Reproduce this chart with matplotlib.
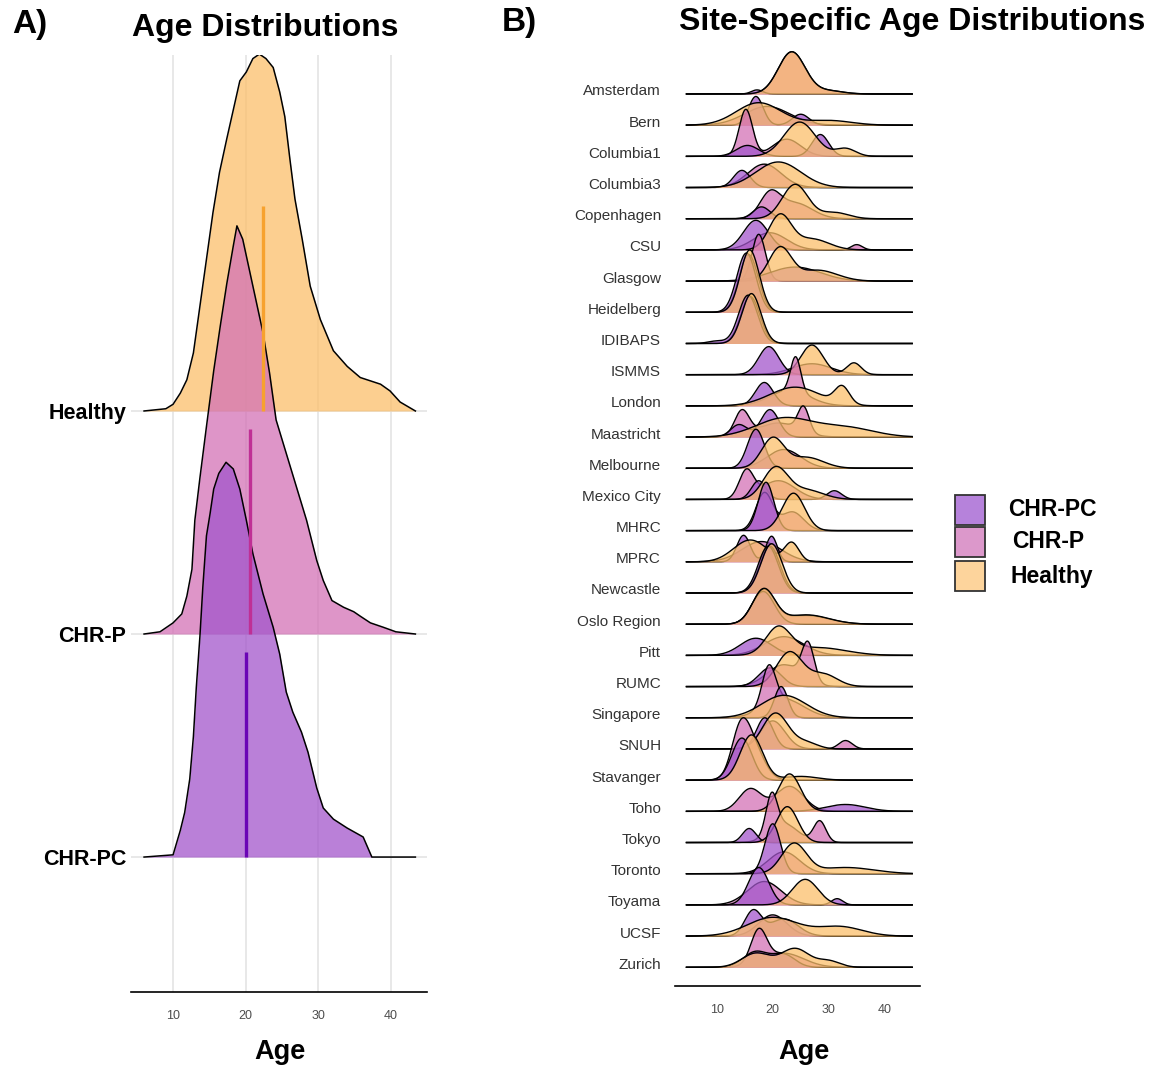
import numpy as np
import matplotlib
matplotlib.use("Agg")
import matplotlib.pyplot as plt
from matplotlib.patches import Rectangle

plt.rcParams['font.family'] = ['Liberation Sans', 'DejaVu Sans']

groups = ["CHR-PC", "CHR-P", "Healthy"]
fill_col = {"CHR-PC": "#A356CB", "CHR-P": "#D372B6", "Healthy": "#FBBF6B"}
key_col = {"CHR-PC": "#B682DB", "CHR-P": "#DC98CB", "Healthy": "#FDD49C"}
mean_col = {"CHR-PC": "#6B05B5", "CHR-P": "#BF2F95", "Healthy": "#F7A22E"}
ALPHA = 0.75

# ---- panel A: pooled densities (height in ridge units)
hc_age = [6.0, 9.0, 10.0, 11.0, 11.9, 12.8, 13.7, 14.6, 15.5, 16.4, 17.4, 18.3,
          19.2, 20.1, 21.0, 21.9, 22.8, 23.8, 24.7, 25.4, 26.1, 26.8, 27.8,
          28.9, 30.3, 32.1, 34.0, 35.8, 38.6, 39.9, 41.3, 43.4]
hc_dens = [0, 0.01, 0.03, 0.08, 0.14, 0.26, 0.47, 0.68, 0.89, 1.07, 1.22, 1.35,
           1.48, 1.52, 1.58, 1.60, 1.58, 1.54, 1.43, 1.32, 1.13, 0.95, 0.77,
           0.56, 0.41, 0.27, 0.20, 0.15, 0.12, 0.09, 0.04, 0]
p_age = [6.0, 8.2, 10.0, 11.2, 11.9, 12.6, 13.0, 13.7, 14.6, 15.6, 16.5, 17.4,
         18.3, 18.8, 19.6, 21.0, 22.4, 23.3, 24.2, 25.6, 27.0, 28.4, 29.8,
         30.7, 31.9, 33.5, 34.9, 35.8, 37.2, 39.0, 40.7, 43.4]
p_dens = [0, 0.01, 0.05, 0.09, 0.17, 0.29, 0.51, 0.70, 0.93, 1.18, 1.38, 1.57,
          1.74, 1.83, 1.77, 1.56, 1.35, 1.17, 0.96, 0.81, 0.66, 0.51, 0.33,
          0.24, 0.15, 0.12, 0.10, 0.08, 0.05, 0.03, 0.01, 0]
pc_age = [6.0, 10.0, 11.0, 11.6, 12.3, 12.8, 13.2, 13.7, 14.1, 14.6, 15.1, 15.6,
          16.3, 17.3, 18.3, 19.2, 20.1, 21.0, 22.4, 23.8, 24.7, 25.6, 26.5,
          27.7, 28.6, 29.8, 30.7, 32.1, 34.0, 35.1, 36.2, 37.4, 43.4]
pc_dens = [0, 0.01, 0.12, 0.20, 0.35, 0.54, 0.76, 0.99, 1.21, 1.44, 1.54, 1.65,
           1.72, 1.77, 1.74, 1.65, 1.51, 1.36, 1.18, 1.03, 0.91, 0.74, 0.65,
           0.56, 0.47, 0.31, 0.22, 0.17, 0.13, 0.11, 0.09, 0, 0]
group_mean = {"CHR-PC": 20.0, "CHR-P": 20.6, "Healthy": 22.4}

# ---- panel B: site densities, bumps (age, height, width)
sites = ["Amsterdam", "Bern", "Columbia1", "Columbia3", "Copenhagen", "CSU",
         "Glasgow", "Heidelberg", "IDIBAPS", "ISMMS", "London", "Maastricht",
         "Melbourne", "Mexico City", "MHRC", "MPRC", "Newcastle", "Oslo Region",
         "Pitt", "RUMC", "Singapore", "SNUH", "Stavanger", "Toho", "Tokyo",
         "Toronto", "Toyama", "UCSF", "Zurich"]
pc_bumps = [
    [(17.2, 0.13, 1.0)],
    [(17, 0.92, 1.3), (25, 0.35, 1.5)],
    [(15.5, 0.35, 2.0), (28.5, 0.7, 1.5)],
    [(14.5, 0.55, 1.5)],
    [(18, 0.38, 1.5)],
    [(17, 0.95, 2.2)],
    [(24, 0.45, 4.5)],
    [(15.3, 1.9, 1.7)],
    [(15.6, 1.55, 1.7), (10, 0.08, 1.5)],
    [(19.3, 0.9, 1.8)],
    [(18.5, 0.75, 1.6)],
    [(19.5, 0.88, 1.6), (14, 0.4, 1.5)],
    [(17, 1.25, 1.5)],
    [(17.5, 0.6, 1.3), (31, 0.28, 1.3)],
    [(18.8, 1.55, 1.4)],
    [(14.8, 0.85, 1.2), (19.8, 0.82, 1.0)],
    [(19.2, 1.5, 1.8)],
    [(18.3, 1.05, 2.0)],
    [(17, 0.55, 2.8)],
    [(19.5, 0.6, 2.0)],
    [(21.5, 1.0, 1.2)],
    [(18.6, 1.0, 1.5)],
    [(14.5, 1.35, 1.8)],
    [(33, 0.22, 3.5)],
    [(15.8, 0.45, 1.2)],
    [(20, 1.6, 1.4)],
    [(17.5, 1.2, 1.8), (31.5, 0.2, 1.0)],
    [(16.5, 0.8, 1.5), (22, 0.55, 2.5)],
    [(17, 0.5, 2.2), (22, 0.4, 2.0)],
]
p_bumps = [
    [(23.4, 1.35, 2.4), (30, 0.1, 2.5)],
    [(19, 0.6, 4.0)],
    [(15.2, 1.5, 1.2), (22.5, 0.55, 2.5)],
    [(18.5, 0.75, 3.0)],
    [(19.5, 0.75, 1.8), (24, 0.5, 3.0)],
    [(19.5, 0.55, 3.0), (35, 0.17, 1.0)],
    [(17.5, 1.5, 1.2)],
    [(15.7, 1.85, 1.7)],
    [(16, 1.5, 1.7)],
    [(27, 0.35, 3.5)],
    [(24.1, 1.1, 0.9), (23, 0.5, 3.5)],
    [(14.5, 0.8, 1.3), (25.5, 0.8, 1.0), (21, 0.45, 3.5)],
    [(22, 0.6, 3.0)],
    [(15.3, 0.88, 1.3), (21, 0.6, 3.0)],
    [(18.5, 1.2, 1.5), (23.5, 0.6, 2.0)],
    [(18, 0.65, 3.5)],
    [(19.5, 1.5, 1.8)],
    [(18.4, 1.08, 2.0), (26, 0.28, 4.0)],
    [(22, 0.6, 3.5)],
    [(26.3, 1.2, 1.1), (22, 0.7, 3.0)],
    [(19.3, 1.25, 1.2), (22, 0.6, 3.5)],
    [(33, 0.27, 1.2), (20, 0.9, 2.2)],
    [(14.2, 1.4, 1.6), (16.5, 1.0, 2.0)],
    [(16, 0.72, 2.0), (23, 0.8, 2.5)],
    [(19.8, 1.2, 1.0), (28.4, 0.68, 1.1), (22, 0.6, 2.5)],
    [(22, 0.7, 2.8)],
    [(18.5, 0.75, 3.0)],
    [(20, 0.68, 2.5)],
    [(17.5, 1.05, 1.4), (22, 0.45, 3.5)],
]
hc_bumps = [
    [(23.4, 1.35, 2.4), (30, 0.1, 2.5)],
    [(17.5, 0.72, 4.0), (30, 0.15, 4.0)],
    [(24.8, 1.1, 2.8), (33, 0.25, 1.8)],
    [(21, 0.82, 4.0)],
    [(24, 1.1, 2.3), (31, 0.2, 2.5)],
    [(21.3, 1.1, 2.0), (27, 0.35, 3.0)],
    [(21.3, 1.05, 2.0), (28, 0.35, 3.5)],
    [(15.9, 2.0, 1.7)],
    [(16.2, 1.6, 1.7)],
    [(27, 0.95, 2.0), (34.5, 0.38, 1.3)],
    [(24, 0.6, 4.5), (32.4, 0.55, 1.3)],
    [(22, 0.6, 5.0), (33, 0.3, 5.0)],
    [(20, 0.95, 2.0), (26, 0.35, 3.0)],
    [(20.5, 1.0, 2.2), (26, 0.3, 3.0)],
    [(23.7, 1.2, 2.0)],
    [(16, 0.7, 3.0), (23.4, 0.6, 1.3)],
    [(19.8, 1.58, 1.9)],
    [(18.4, 1.1, 2.0), (26, 0.3, 4.0)],
    [(21, 0.85, 2.2), (28, 0.25, 5.0)],
    [(23, 1.1, 2.3), (29, 0.4, 2.5)],
    [(22, 0.72, 4.0)],
    [(20.5, 1.15, 2.3), (26, 0.2, 2.0)],
    [(16.2, 1.45, 2.0), (25, 0.12, 3.0)],
    [(23, 1.2, 2.0)],
    [(22.6, 1.15, 1.9)],
    [(23.8, 0.95, 2.2), (33, 0.2, 5.0)],
    [(25.8, 0.82, 2.3)],
    [(20, 0.6, 4.5), (32, 0.3, 4.0)],
    [(24, 0.6, 2.5), (17, 0.45, 2.5), (30, 0.2, 2.0)],
]


def ridge(x, bumps):
    y = np.zeros_like(x)
    for c, h, s in bumps:
        y += h * np.exp(-0.5 * ((x - c) / s) ** 2)
    return y


W, H = 1158, 1069
fig = plt.figure(figsize=(W / 100, H / 100), dpi=100)


def fx(px):
    return px / W


def fy(py):
    return 1 - py / H


# ================= panel A
axA = fig.add_axes([fx(131), fy(992), fx(427) - fx(131), fy(55) - fy(992)])
axA.set_xlim(4.2, 45)
axA.set_ylim(-0.605, 3.596)
for v in [10, 20, 30, 40]:
    axA.axvline(v, color="#E4E4E4", lw=1.2, zorder=0)
for b in [0, 1, 2]:
    axA.axhline(b, color="#E4E4E4", lw=1.2, zorder=0)

rowsA = [("Healthy", 2, hc_age, hc_dens), ("CHR-P", 1, p_age, p_dens),
         ("CHR-PC", 0, pc_age, pc_dens)]
z = 2
for name, base, ages, dens in rowsA:
    ages = np.array(ages)
    top = base + np.array(dens)
    axA.fill_between(ages, base, top, color=fill_col[name], alpha=ALPHA,
                     lw=0, zorder=z)
    axA.plot(ages, top, color="black", lw=1.1, zorder=z + 1)
    z += 2
for name, base, ages, dens in rowsA:
    axA.vlines(group_mean[name], base, base + 0.92, color=mean_col[name],
               lw=2.4, zorder=20)

axA.set_xticks([10, 20, 30, 40])
axA.set_yticks([0, 1, 2])
axA.set_yticklabels(["CHR-PC", "CHR-P", "Healthy"], fontsize=15.5,
                    fontweight="bold")
axA.tick_params(axis="y", length=0, pad=3.6)
axA.tick_params(axis="x", length=0, pad=13, labelsize=9, labelcolor="#4D4D4D")
for s in ["left", "right", "top"]:
    axA.spines[s].set_visible(False)
axA.spines["bottom"].set_linewidth(1.2)

# ================= panel B
n = len(sites)
axB = fig.add_axes([fx(675), fy(986), fx(920) - fx(675), fy(45) - fy(986)])
axB.set_xlim(2.55, 46.3)
axB.set_ylim(-0.6, n - 1 + 1.57)
xs = np.linspace(4.6, 44.9, 500)
z = 2
for i, site in enumerate(sites):
    base = n - 1 - i
    for name, bumps in [("CHR-P", p_bumps[i]), ("CHR-PC", pc_bumps[i]),
                        ("Healthy", hc_bumps[i])]:
        top = base + ridge(xs, bumps)
        axB.fill_between(xs, base, top, color=fill_col[name], alpha=ALPHA,
                         lw=0, zorder=z)
        axB.plot(xs, top, color="black", lw=1.0, zorder=z + 1)
        z += 2

axB.set_xticks([10, 20, 30, 40])
axB.set_yticks([n - 1 - i + 0.13 for i in range(n)])
axB.set_yticklabels(sites, fontsize=11, color="#333333")
axB.tick_params(axis="y", length=0, pad=10)
axB.tick_params(axis="x", length=0, pad=13, labelsize=9, labelcolor="#4D4D4D")
for s in ["left", "right", "top"]:
    axB.spines[s].set_visible(False)
axB.spines["bottom"].set_linewidth(1.2)

# ================= titles / labels
fig.text(fx(12), fy(25), "A)", fontsize=24, fontweight="bold", va="center")
fig.text(fx(502), fy(22), "B)", fontsize=24, fontweight="bold", va="center")
fig.text(fx(265), fy(28), "Age Distributions", fontsize=23, fontweight="bold",
         ha="center", va="center")
fig.text(fx(912), fy(22), "Site-Specific Age Distributions", fontsize=23,
         fontweight="bold", ha="center", va="center")
fig.text(fx(280), fy(1052), "Age", fontsize=19.5, fontweight="bold",
         ha="center", va="center")
fig.text(fx(804), fy(1052), "Age", fontsize=19.5, fontweight="bold",
         ha="center", va="center")

# ================= legend
for k, (name, ytop, tx) in enumerate([("CHR-PC", 495, 1008),
                                      ("CHR-P", 527, 1012),
                                      ("Healthy", 561, 1010)]):
    fig.patches.append(Rectangle((fx(955), fy(ytop + 30)), fx(30), fy(0) - fy(30),
                                 transform=fig.transFigure,
                                 facecolor=key_col[name], edgecolor="#333333",
                                 lw=1.3))
    fig.text(fx(tx), fy(ytop + 15), name, fontsize=16.5, fontweight="bold",
             va="center", ha="left")

fig.savefig("out.png", dpi=100)
